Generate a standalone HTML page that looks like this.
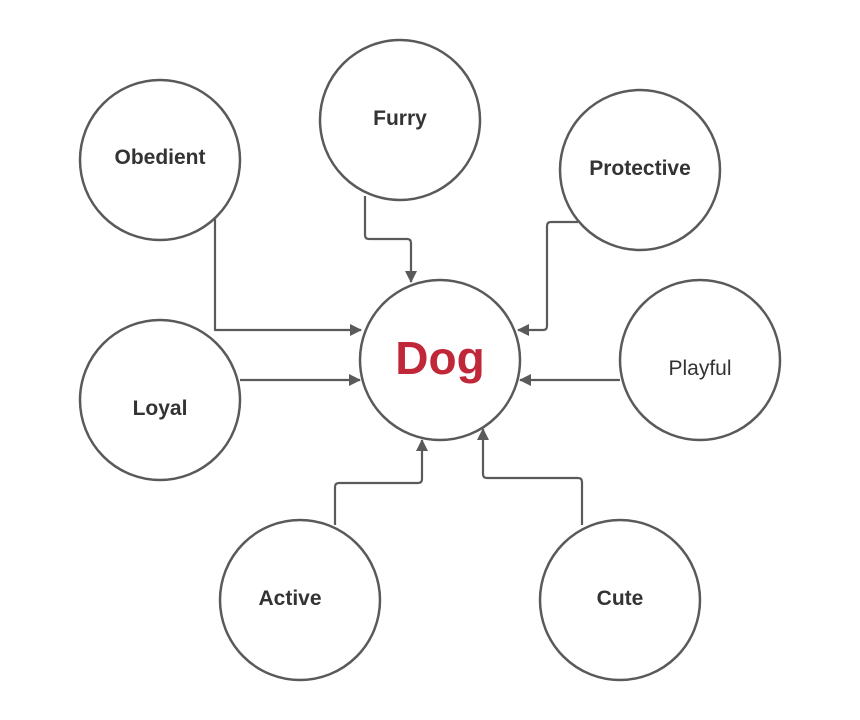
<!DOCTYPE html>
<html><head><meta charset="utf-8"><style>
html,body{margin:0;padding:0;background:#fff;}
svg{display:block;}
</style></head><body>
<svg width="860" height="720" viewBox="0 0 860 720" xmlns="http://www.w3.org/2000/svg">
<defs>
<marker id="a" markerWidth="12" markerHeight="12" refX="11" refY="6" orient="auto" markerUnits="userSpaceOnUse">
<path d="M0,0 L12,6 L0,12 Z" fill="#5a5a5a"/>
</marker>
</defs>
<g fill="none" stroke="#5a5a5a" stroke-width="2.2" stroke-linejoin="round">
<path d="M215,218 V330 H361" marker-end="url(#a)"/>
<path d="M365,196 V235 Q365,239 369,239 H407 Q411,239 411,243 V282" marker-end="url(#a)"/>
<path d="M578,222 H551 Q547,222 547,226 V326 Q547,330 543,330 H518" marker-end="url(#a)"/>
<path d="M240,380 H360" marker-end="url(#a)"/>
<path d="M620,380 H520" marker-end="url(#a)"/>
<path d="M335,525 V487 Q335,483 339,483 H418 Q422,483 422,479 V440" marker-end="url(#a)"/>
<path d="M582,525 V482 Q582,478 578,478 H487 Q483,478 483,474 V429" marker-end="url(#a)"/>
</g>
<g fill="#fff" stroke="#5a5a5a" stroke-width="2.5">
<circle cx="160" cy="160" r="80"/>
<circle cx="400" cy="120" r="80"/>
<circle cx="640" cy="170" r="80"/>
<circle cx="440" cy="360" r="80"/>
<circle cx="160" cy="400" r="80"/>
<circle cx="700" cy="360" r="80"/>
<circle cx="300" cy="600" r="80"/>
<circle cx="620" cy="600" r="80"/>
</g>
<g font-family="Liberation Sans, sans-serif" font-size="21" fill="#333" text-anchor="middle" font-weight="bold">
<text x="160" y="164">Obedient</text>
<text x="400" y="125">Furry</text>
<text x="640" y="175">Protective</text>
<text x="160" y="415">Loyal</text>
<text x="700" y="375" font-weight="normal">Playful</text>
<text x="290" y="605">Active</text>
<text x="620" y="605">Cute</text>
<text x="440" y="374" font-size="46" fill="#c0283a">Dog</text>
</g>
</svg>
</body></html>
